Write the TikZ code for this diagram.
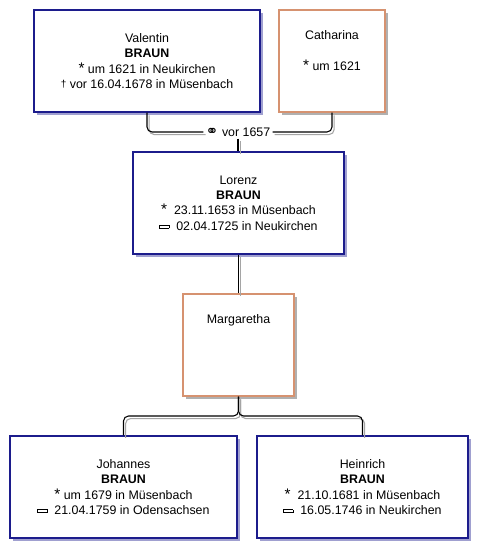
\documentclass[tikz,border=0pt]{standalone}
\usepackage{fontspec}
\setmainfont{Liberation Sans}
\newfontfamily\symfont{DejaVu Sans}
\usetikzlibrary{shadows}
\definecolor{mblue}{RGB}{28,28,140}
\definecolor{forange}{RGB}{214,146,112}
\definecolor{shblue}{RGB}{160,160,208}
\definecolor{shgray}{RGB}{176,176,176}
\definecolor{lgray}{RGB}{165,165,165}
\newcommand\burialsym{\raisebox{0.2em}{\setlength\fboxsep{0pt}\setlength\fboxrule{0.7pt}\fbox{\rule{0pt}{1.6pt}\rule{6.2pt}{0pt}}}}
\newcommand\birthsym{{\fontsize{11.5}{11}\selectfont *}}
\newcommand\deathsym{{\fontsize{7.5}{7}\selectfont\raisebox{0.25ex}{†}}}
\begin{document}
\begin{tikzpicture}[x=0.75pt,y=-0.75pt,
  person/.style={draw, line width=1.1pt, fill=white, inner sep=0pt, align=center,
    minimum height=76.5pt, font=\fontsize{9.3}{11.6}\selectfont,
    execute at begin node={\rule{0pt}{10.5pt}}},
  male/.style={person, draw=mblue,
    drop shadow={shadow xshift=2.6pt, shadow yshift=-2.6pt, fill=shblue, opacity=1}},
  female/.style={person, draw=forange,
    drop shadow={shadow xshift=2.6pt, shadow yshift=-2.6pt, fill=shgray, opacity=1}},
  wd/.style={minimum width=#1*0.75pt},
  conn/.style={draw=black, line width=0.8pt, rounded corners=3.75pt},
  connsh/.style={draw=lgray, line width=0.8pt, rounded corners=3.75pt,
    transform canvas={xshift=1.6pt, yshift=-1.9pt}},
  mlabel/.style={fill=white, inner sep=1.5pt, font=\fontsize{9.3}{11.6}\selectfont}
]
\useasboundingbox[fill=white] (0,0) rectangle (487,558);

\node[male, wd=226] (val) at (147,61)
  {Valentin\\\textbf{BRAUN}\\\birthsym\ um 1621 in Neukirchen\\\deathsym\ vor 16.04.1678 in Müsenbach};
\node[female, wd=106] (cat) at (332,61)
  {Catharina\\\strut\\\birthsym\ um 1621\\\strut};
\node[mlabel] (mar1) at (238,132) {{\symfont\fontsize{11.5}{10}\selectfont ⚭} vor 1657};
\node[male, wd=211] (lor) at (238.5,203)
  {Lorenz\\\textbf{BRAUN}\\\birthsym\ \ 23.11.1653 in Müsenbach\\\burialsym\ \ 02.04.1725 in Neukirchen};
\node[female, wd=111] (mar) at (238.5,345)
  {Margaretha\\\strut\\\strut\\\strut};
\node[male, wd=227] (joh) at (123.5,487)
  {Johannes\\\textbf{BRAUN}\\\birthsym\ um 1679 in Müsenbach\\\burialsym\ \ 21.04.1759 in Odensachsen};
\node[male, wd=211] (hei) at (362.5,487)
  {Heinrich\\\textbf{BRAUN}\\\birthsym\ \ 21.10.1681 in Müsenbach\\\burialsym\ \ 16.05.1746 in Neukirchen};
\coordinate (fork) at (238.5,416);

% shadow (gray) lines
\draw[connsh] (val.south) |- (mar1.west);
\draw[connsh] (cat.south) |- (mar1.east);
\draw[connsh] (mar1.south) -- (mar1.south |- lor.north);
\draw[connsh] (lor.south) -- (mar.north);
\draw[connsh] (mar.south) -- (fork) -| (joh.north);
\draw[connsh] (mar.south) -- (fork) -| (hei.north);
% black lines
\draw[conn] (val.south) |- (mar1.west);
\draw[conn] (cat.south) |- (mar1.east);
\draw[conn] (mar1.south) -- (mar1.south |- lor.north);
\draw[conn] (lor.south) -- (mar.north);
\draw[conn] (mar.south) -- (fork) -| (joh.north);
\draw[conn] (mar.south) -- (fork) -| (hei.north);
\end{tikzpicture}
\end{document}
